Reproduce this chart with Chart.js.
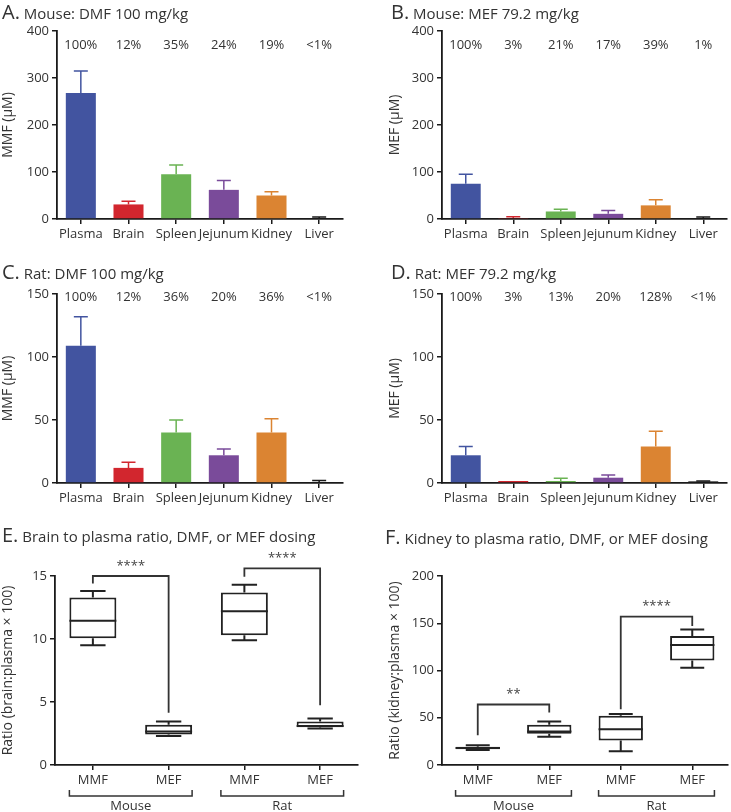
<!DOCTYPE html>
<html>
<head>
<meta charset="utf-8">
<script src="https://cdn.jsdelivr.net/npm/chart.js@4.4.1/dist/chart.umd.min.js"></script>
<style>
  body { margin: 0; background: #fff; font-family: "Open Sans", sans-serif; color: #333; }
  #wrap { position: relative; width: 731px; height: 812px; overflow: hidden; }
  .panel { position: absolute; }
  .ttl { position: absolute; font-size: 15px; white-space: nowrap; color: #333; line-height: 20px; }
  .ttl span { font-size: 20px; }
</style>
</head>
<body>
<div id="wrap">
  <div class="panel" style="left:0;top:0;width:365px;height:250px"><canvas id="cA"></canvas></div>
  <div class="panel" style="left:365px;top:0;width:366px;height:250px"><canvas id="cB"></canvas></div>
  <div class="panel" style="left:0;top:250px;width:365px;height:260px"><canvas id="cC"></canvas></div>
  <div class="panel" style="left:365px;top:250px;width:366px;height:260px"><canvas id="cD"></canvas></div>
  <div class="panel" style="left:0;top:520px;width:365px;height:292px"><canvas id="cE"></canvas></div>
  <div class="panel" style="left:365px;top:520px;width:366px;height:292px"><canvas id="cF"></canvas></div>

  <div class="ttl" style="left:2px;top:2px"><span>A.</span> Mouse: DMF 100 mg/kg</div>
  <div class="ttl" style="left:391px;top:2px"><span>B.</span> Mouse: MEF 79.2 mg/kg</div>
  <div class="ttl" style="left:2px;top:262px"><span>C.</span> Rat: DMF 100 mg/kg</div>
  <div class="ttl" style="left:391px;top:262px"><span>D.</span> Rat: MEF 79.2 mg/kg</div>
  <div class="ttl" style="left:2px;top:525px"><span>E.</span> Brain to plasma ratio, DMF, or MEF dosing</div>
  <div class="ttl" style="left:385px;top:527px"><span>F.</span> Kidney to plasma ratio, DMF, or MEF dosing</div>
</div>

<script>
// tissue panels
const tissues = ["Plasma", "Brain", "Spleen", "Jejunum", "Kidney", "Liver"];
const tissueColors = ["#4254a0", "#d2262e", "#6ab353", "#7a4b9a", "#db8432", "#1a1a1a"];

const mouseDmf = [268, 31, 95, 62, 50, 2];
const mouseDmfErr = [47, 7, 20, 20, 8, 2];
const mouseDmfPct = ["100%", "12%", "35%", "24%", "19%", "<1%"];

const mouseMef = [75, 2, 16, 11, 29, 2];
const mouseMefErr = [20, 3, 5, 7, 12, 2];
const mouseMefPct = ["100%", "3%", "21%", "17%", "39%", "1%"];

const ratDmf = [109, 12, 40, 22, 40, 0.5];
const ratDmfErr = [23, 4.5, 10, 5, 11, 1.4];
const ratDmfPct = ["100%", "12%", "36%", "20%", "36%", "<1%"];

const ratMef = [22, 1.6, 1.6, 4.2, 29, 1.3];
const ratMefErr = [7, 0, 2.1, 2.1, 12, 0.3];
const ratMefPct = ["100%", "3%", "13%", "20%", "128%", "<1%"];

// ratio panels
const doseLabels = ["MMF", "MEF", "MMF", "MEF"];
const speciesGroups = ["Mouse", "Rat"];

const brainMin = [9.5, 2.3, 9.9, 2.9];
const brainQ1 = [10.05, 2.43, 10.3, 3.0];
const brainMed = [11.45, 2.65, 12.2, 3.1];
const brainQ3 = [13.3, 3.2, 13.7, 3.45];
const brainMax = [13.8, 3.45, 14.3, 3.7];

const kidMin = [16, 30, 14.5, 103];
const kidQ1 = [16.6, 33, 26, 110.5];
const kidMed = [18, 35.5, 37.7, 127];
const kidQ3 = [19.4, 42.7, 52, 136.5];
const kidMax = [21, 46, 54, 143.5];

// significance: [from, to, leftEnd, top, rightEnd, stars]
const brainSig = [[0, 1, 14.4, 15, 4.15, "****"], [2, 3, 14.95, 15.6, 4.75, "****"]];
const kidSig = [[0, 1, 31.5, 64, 55.5, "**"], [2, 3, 59, 157, 147, "****"]];

Chart.defaults.font.family = "'Open Sans', sans-serif";
Chart.defaults.color = "#333";

const extras = {
  id: "extras",
  afterDatasetsDraw(chart, args, o) {
    const ctx = chart.ctx;
    const y = chart.scales.y;
    const bars = chart.getDatasetMeta(0).data;
    ctx.save();
    if (o.errors) {
      ctx.lineWidth = 1.5;
      bars.forEach((b, i) => {
        const v = o.values[i], e = o.errors[i];
        if (!e) return;
        const y0 = y.getPixelForValue(v), y1 = y.getPixelForValue(v + e);
        ctx.strokeStyle = tissueColors[i];
        ctx.beginPath();
        ctx.moveTo(b.x, y0); ctx.lineTo(b.x, y1);
        ctx.moveTo(b.x - 7, y1); ctx.lineTo(b.x + 7, y1);
        ctx.stroke();
      });
    }
    if (o.pct) {
      ctx.fillStyle = "#333";
      ctx.font = "13px 'Open Sans'";
      ctx.textAlign = "center";
      ctx.textBaseline = "middle";
      const py = y.getPixelForValue(o.pctAt);
      bars.forEach((b, i) => ctx.fillText(o.pct[i], b.x, py));
    }
    if (o.box) {
      ctx.strokeStyle = "#222";
      ctx.lineWidth = 2;
      bars.forEach((b, i) => {
        const hw = b.width / 2, cw = b.width * 0.27;
        const yq1 = y.getPixelForValue(o.box.q1[i]), yq3 = y.getPixelForValue(o.box.q3[i]);
        const ymin = y.getPixelForValue(o.box.min[i]), ymax = y.getPixelForValue(o.box.max[i]);
        const ymed = y.getPixelForValue(o.box.med[i]);
        ctx.beginPath();
        ctx.moveTo(b.x, yq3); ctx.lineTo(b.x, ymax);
        ctx.moveTo(b.x - cw, ymax); ctx.lineTo(b.x + cw, ymax);
        ctx.moveTo(b.x, yq1); ctx.lineTo(b.x, ymin);
        ctx.moveTo(b.x - cw, ymin); ctx.lineTo(b.x + cw, ymin);
        ctx.moveTo(b.x - hw, ymed); ctx.lineTo(b.x + hw, ymed);
        ctx.stroke();
      });
    }
    if (o.sig) {
      ctx.strokeStyle = "#333";
      ctx.lineWidth = 1.8;
      ctx.fillStyle = "#444";
      ctx.font = "13px 'Open Sans'";
      ctx.textAlign = "center";
      ctx.textBaseline = "middle";
      o.sig.forEach(s => {
        const x1 = bars[s[0]].x, x2 = bars[s[1]].x;
        const yt = y.getPixelForValue(s[3]);
        ctx.beginPath();
        ctx.moveTo(x1, y.getPixelForValue(s[2]));
        ctx.lineTo(x1, yt);
        ctx.lineTo(x2, yt);
        ctx.lineTo(x2, y.getPixelForValue(s[4]));
        ctx.stroke();
        ctx.fillText(s[5], (x1 + x2) / 2, yt - 10);
      });
    }
    if (o.groups) {
      const base = chart.chartArea.bottom;
      ctx.strokeStyle = "#333";
      ctx.lineWidth = 1.5;
      ctx.fillStyle = "#333";
      ctx.font = "13px 'Open Sans'";
      ctx.textAlign = "center";
      ctx.textBaseline = "middle";
      o.groups.forEach((g, k) => {
        const a = bars[k * 2], b = bars[k * 2 + 1];
        const xa = a.x - a.width / 2, xb = b.x + b.width / 2;
        ctx.beginPath();
        ctx.moveTo(xa, base + 25); ctx.lineTo(xa, base + 31);
        ctx.lineTo(xb, base + 31); ctx.lineTo(xb, base + 25);
        ctx.stroke();
        ctx.fillText(g, (xa + xb) / 2, base + 41);
      });
    }
    ctx.restore();
  }
};

function axes(yMax, yStep, yTitle, yWidth, xHeight, xLabelSize) {
  const line = { display: true, color: "#1a1a1a", width: 1.8 };
  return {
    x: {
      offset: true,
      border: line,
      grid: { offset: false, drawOnChartArea: false, drawTicks: true, tickLength: 5, color: "#1a1a1a", lineWidth: 1.5 },
      ticks: { autoSkip: false, maxRotation: 0, padding: 2, font: { size: xLabelSize }, color: "#333" },
      afterFit(s) { s.height = xHeight; }
    },
    y: {
      min: 0, max: yMax,
      border: line,
      grid: { drawOnChartArea: false, drawTicks: true, tickLength: 5, color: "#1a1a1a", lineWidth: 1.5 },
      ticks: { stepSize: yStep, padding: 3, font: { size: 13 }, color: "#333" },
      title: { display: true, text: yTitle, font: { size: 14 }, color: "#333", padding: { top: 0, bottom: 0 } },
      afterFit(s) { s.width = yWidth; }
    }
  };
}

function tissueChart(id, values, errors, pct, pctAt, yMax, yStep, yTitle, pad, yWidth, xHeight) {
  new Chart(document.getElementById(id), {
    type: "bar",
    data: {
      labels: tissues,
      datasets: [{ data: values, backgroundColor: tissueColors, barPercentage: 0.63, categoryPercentage: 1 }]
    },
    options: {
      responsive: true, maintainAspectRatio: false, animation: false,
      layout: { padding: pad },
      plugins: { legend: { display: false }, tooltip: { enabled: false },
        extras: { values: values, errors: errors, pct: pct, pctAt: pctAt } },
      scales: axes(yMax, yStep, yTitle, yWidth, xHeight, 13)
    },
    plugins: [extras]
  });
}

function ratioChart(id, box, sig, yMax, yStep, yTitle, pad, yWidth) {
  new Chart(document.getElementById(id), {
    type: "bar",
    data: {
      labels: doseLabels,
      datasets: [{
        data: box.q1.map((v, i) => [v, box.q3[i]]),
        backgroundColor: "#fff", borderColor: "#222", borderWidth: 2, borderSkipped: false,
        barPercentage: 0.62, categoryPercentage: 1
      }]
    },
    options: {
      responsive: true, maintainAspectRatio: false, animation: false,
      layout: { padding: pad },
      plugins: { legend: { display: false }, tooltip: { enabled: false },
        extras: { box: box, sig: sig, groups: speciesGroups } },
      scales: axes(yMax, yStep, yTitle, yWidth, 47, 13)
    },
    plugins: [extras]
  });
}

tissueChart("cA", mouseDmf, mouseDmfErr, mouseDmfPct, 370, 400, 100, "MMF (µM)", { left: 0, right: 22, top: 31, bottom: 0 }, 57, 31);
tissueChart("cB", mouseMef, mouseMefErr, mouseMefPct, 370, 400, 100, "MEF (µM)", { left: 22, right: 4, top: 31, bottom: 0 }, 55, 31);
tissueChart("cC", ratDmf, ratDmfErr, ratDmfPct, 147, 150, 50, "MMF (µM)", { left: 0, right: 22, top: 44, bottom: 0 }, 57, 27);
tissueChart("cD", ratMef, ratMefErr, ratMefPct, 147, 150, 50, "MEF (µM)", { left: 22, right: 4, top: 44, bottom: 0 }, 55, 27);

ratioChart("cE", { min: brainMin, q1: brainQ1, med: brainMed, q3: brainQ3, max: brainMax }, brainSig,
  15, 5, "Ratio (brain:plasma × 100)", { left: 0, right: 7, top: 56, bottom: 0 }, 55);
ratioChart("cF", { min: kidMin, q1: kidQ1, med: kidMed, q3: kidQ3, max: kidMax }, kidSig,
  200, 50, "Ratio (kidney:plasma × 100)", { left: 22, right: 3, top: 56, bottom: 0 }, 55);
</script>
</body>
</html>
